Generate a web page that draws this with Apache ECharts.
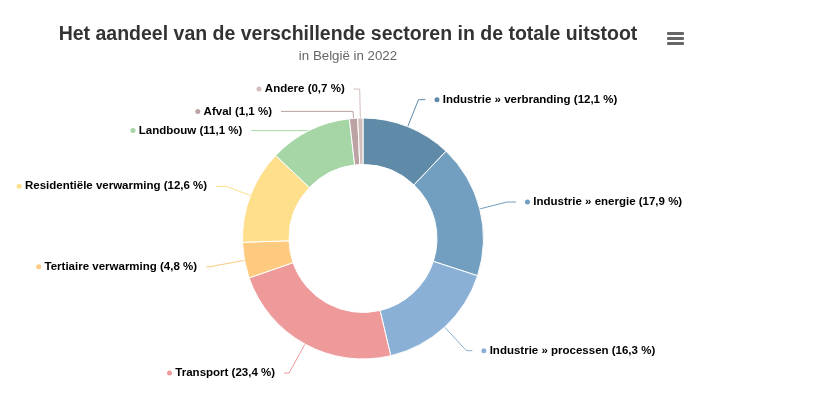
<!DOCTYPE html>
<html>
<head>
<meta charset="utf-8">
<script src="https://cdn.jsdelivr.net/npm/echarts@6/dist/echarts.min.js"></script>
<style>html,body{margin:0;padding:0;background:#fff;}#c{width:830px;height:399px;}</style>
</head>
<body>
<div id="c"></div>
<script>
const titleText = 'Het aandeel van de verschillende sectoren in de totale uitstoot';
const subtitleText = 'in België in 2022';
const categories = ['Industrie » verbranding', 'Industrie » energie', 'Industrie » processen', 'Transport', 'Tertiaire verwarming', 'Residentiële verwarming', 'Landbouw', 'Afval', 'Andere'];
const values = [12.1, 17.9, 16.3, 23.4, 4.8, 12.6, 11.1, 1.1, 0.7];
const colors = ['#5f8aa8', '#729fc0', '#8ab1d5', '#ee9a9b', '#fdca7f', '#fedf8c', '#a6d6a5', '#bca2a2', '#d3bebe'];

// connector lengths per slice [radial, horizontal]
const lineLens = [[29,7],[28,9],[32,6],[33,5],[36,3],[26,10],[0,58],[7,72],[29,6]];

const FONT = 'Liberation Sans, Arial, sans-serif';
const rich = { t: { fontSize: 11.5, fontWeight: 'bold', color: '#000', fontFamily: FONT } };
colors.forEach((c, i) => {
  rich['d' + i] = { width: 5, height: 5, borderRadius: 2.5, backgroundColor: c };
});

const fmt = v => v.toFixed(1).replace('.', ',') + ' %';

const data = categories.map((name, i) => ({
  name,
  value: values[i],
  itemStyle: { color: colors[i] },
  labelLine: { length: lineLens[i][0], length2: lineLens[i][1] }
}));

const chart = echarts.init(document.getElementById('c'), null, { renderer: 'canvas' });
chart.setOption({
  animation: false,
  backgroundColor: '#fff',
  title: [
    { text: titleText, left: 343, top: 20, textAlign: 'center',
      textStyle: { fontSize: 19.5, fontWeight: 'bold', color: '#333', fontFamily: FONT } },
    { text: subtitleText, left: 343, top: 45, textAlign: 'center',
      textStyle: { fontSize: 13.3, fontWeight: 'normal', color: '#666', fontFamily: FONT } }
  ],
  graphic: [
    { type: 'rect', left: 667, top: 32, shape: { width: 17, height: 3, r: 1 }, style: { fill: '#666' } },
    { type: 'rect', left: 667, top: 37, shape: { width: 17, height: 3, r: 1 }, style: { fill: '#666' } },
    { type: 'rect', left: 667, top: 42, shape: { width: 17, height: 3, r: 1 }, style: { fill: '#666' } }
  ],
  series: [{
    type: 'pie',
    center: [363, 238.5],
    radius: [74, 120.5],
    startAngle: 90,
    clockwise: true,
    avoidLabelOverlap: true,
    itemStyle: { borderColor: '#fff', borderWidth: 1 },
    label: {
      show: true,
      position: 'outside',
      distanceToLabelLine: 9,
      formatter: p => '{d' + p.dataIndex + '|} {t|' + p.name + ' (' + fmt(p.value) + ')}',
      rich
    },
    labelLine: { show: true, lineStyle: { width: 1 } },
    emphasis: { disabled: true },
    data
  }]
});
</script>
</body>
</html>
